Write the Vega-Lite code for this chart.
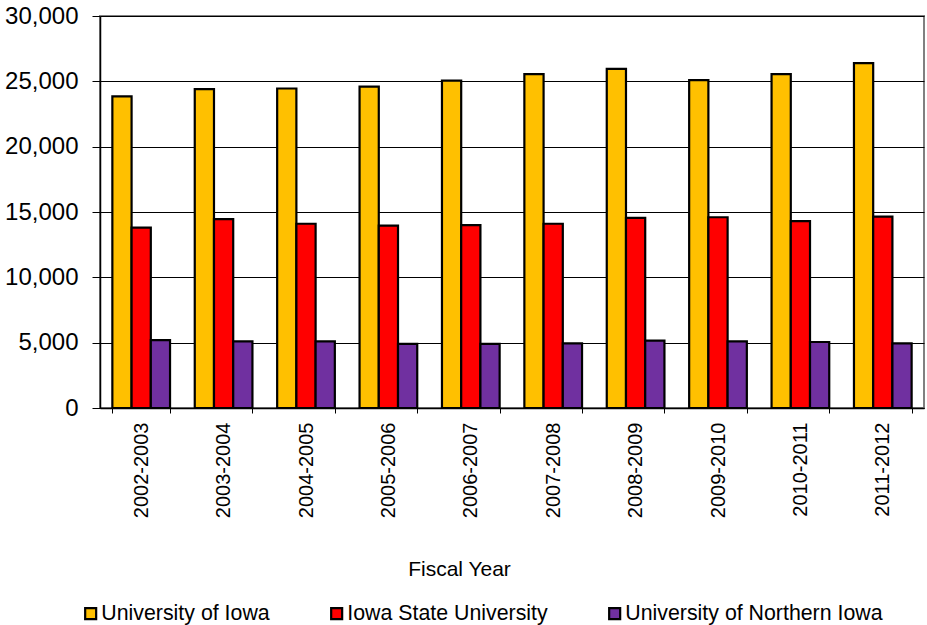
{
  "$schema": "https://vega.github.io/schema/vega-lite/v6.json",
  "width": 824,
  "height": 392,
  "autosize": "none",
  "padding": {"left": 100, "top": 16, "right": 3, "bottom": 217},
  "background": "white",
  "config": {
    "font": "Liberation Sans",
    "view": {"stroke": "#808080", "strokeWidth": 2}
  },
  "data": {
    "values": [
      {"year": "2002-2003", "university": "University of Iowa", "enrollment": 23850},
      {"year": "2002-2003", "university": "Iowa State University", "enrollment": 13800},
      {"year": "2002-2003", "university": "University of Northern Iowa", "enrollment": 5200},
      {"year": "2003-2004", "university": "University of Iowa", "enrollment": 24400},
      {"year": "2003-2004", "university": "Iowa State University", "enrollment": 14450},
      {"year": "2003-2004", "university": "University of Northern Iowa", "enrollment": 5100},
      {"year": "2004-2005", "university": "University of Iowa", "enrollment": 24450},
      {"year": "2004-2005", "university": "Iowa State University", "enrollment": 14100},
      {"year": "2004-2005", "university": "University of Northern Iowa", "enrollment": 5100},
      {"year": "2005-2006", "university": "University of Iowa", "enrollment": 24600},
      {"year": "2005-2006", "university": "Iowa State University", "enrollment": 13950},
      {"year": "2005-2006", "university": "University of Northern Iowa", "enrollment": 4900},
      {"year": "2006-2007", "university": "University of Iowa", "enrollment": 25050},
      {"year": "2006-2007", "university": "Iowa State University", "enrollment": 14000},
      {"year": "2006-2007", "university": "University of Northern Iowa", "enrollment": 4900},
      {"year": "2007-2008", "university": "University of Iowa", "enrollment": 25550},
      {"year": "2007-2008", "university": "Iowa State University", "enrollment": 14100},
      {"year": "2007-2008", "university": "University of Northern Iowa", "enrollment": 4950},
      {"year": "2008-2009", "university": "University of Iowa", "enrollment": 25950},
      {"year": "2008-2009", "university": "Iowa State University", "enrollment": 14550},
      {"year": "2008-2009", "university": "University of Northern Iowa", "enrollment": 5150},
      {"year": "2009-2010", "university": "University of Iowa", "enrollment": 25100},
      {"year": "2009-2010", "university": "Iowa State University", "enrollment": 14600},
      {"year": "2009-2010", "university": "University of Northern Iowa", "enrollment": 5100},
      {"year": "2010-2011", "university": "University of Iowa", "enrollment": 25550},
      {"year": "2010-2011", "university": "Iowa State University", "enrollment": 14300},
      {"year": "2010-2011", "university": "University of Northern Iowa", "enrollment": 5050},
      {"year": "2011-2012", "university": "University of Iowa", "enrollment": 26400},
      {"year": "2011-2012", "university": "Iowa State University", "enrollment": 14650},
      {"year": "2011-2012", "university": "University of Northern Iowa", "enrollment": 4950}
    ]
  },
  "mark": {"type": "bar", "stroke": "black", "strokeWidth": 2.2},
  "encoding": {
    "x": {
      "field": "year",
      "type": "nominal",
      "scale": {"paddingInner": 0.3, "paddingOuter": 0.15},
      "axis": {
        "title": "Fiscal Year",
        "titleFontSize": 21,
        "titleFontWeight": "normal",
        "titleColor": "black",
        "titleX": 359,
        "titleY": 161,
        "titleBaseline": "middle",
        "labelAngle": -90,
        "labelFontSize": 20,
        "labelColor": "black",
        "labelPadding": 9,
        "tickBand": "extent",
        "tickSize": 5,
        "tickColor": "black",
        "domainColor": "black",
        "domainWidth": 1.5
      }
    },
    "xOffset": {
      "field": "university",
      "type": "nominal",
      "sort": ["University of Iowa", "Iowa State University", "University of Northern Iowa"]
    },
    "y": {
      "field": "enrollment",
      "type": "quantitative",
      "scale": {"domain": [0, 30000], "nice": false},
      "axis": {
        "title": null,
        "values": [0, 5000, 10000, 15000, 20000, 25000, 30000],
        "format": ",.0f",
        "labelFontSize": 24,
        "labelColor": "black",
        "labelPadding": 14,
        "tickSize": 8,
        "tickColor": "black",
        "domainColor": "black",
        "domainWidth": 1.5,
        "gridColor": "black",
        "gridWidth": 1
      }
    },
    "color": {
      "field": "university",
      "type": "nominal",
      "sort": ["University of Iowa", "Iowa State University", "University of Northern Iowa"],
      "scale": {
        "domain": ["University of Iowa", "Iowa State University", "University of Northern Iowa"],
        "range": ["#FFC000", "#FF0000", "#7030A0"]
      },
      "legend": {
        "title": null,
        "orient": "none",
        "direction": "horizontal",
        "legendX": -20,
        "legendY": 587,
        "symbolType": "square",
        "symbolSize": 121,
        "symbolStrokeColor": "black",
        "symbolStrokeWidth": 2.2,
        "symbolOpacity": 1,
        "labelFontSize": 21.33,
        "labelColor": "black",
        "labelOffset": 0,
        "columnPadding": 56,
        "labelLimit": 400
      }
    }
  }
}
